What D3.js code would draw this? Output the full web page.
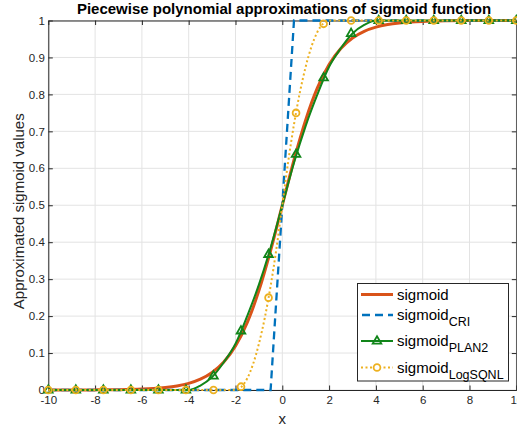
<!DOCTYPE html>
<html>
<head>
<meta charset="utf-8">
<script src="https://cdn.jsdelivr.net/npm/d3@7"></script>
<style>
  body { margin: 0; background: #fff; }
  svg text { font-family: "Liberation Sans", Arial, sans-serif; }
</style>
</head>
<body>
<svg id="chart" width="517" height="431"></svg>
<script>
// data

var xTicks = [-10, -8, -6, -4, -2, 0, 2, 4, 6, 8, 10];
var xTickLabels = ["-10", "-8", "-6", "-4", "-2", "0", "2", "4", "6", "8", "10"];
var yTicks = [0, 0.1, 0.2, 0.3, 0.4, 0.5, 0.6, 0.7, 0.8, 0.9, 1];
var yTickLabels = ["0", "0.1", "0.2", "0.3", "0.4", "0.5", "0.6", "0.7", "0.8", "0.9", "1"];

// exact sigmoid curve
var sigX = [-10, -9, -8, -7, -6, -5.5, -5, -4.5, -4, -3.5, -3, -2.5, -2, -1.5, -1, -0.5, 0,
            0.5, 1, 1.5, 2, 2.5, 3, 3.5, 4, 4.5, 5, 5.5, 6, 7, 8, 9, 10];
var sigY = [0.0000, 0.0001, 0.0003, 0.0009, 0.0025, 0.0041, 0.0067, 0.0110, 0.0180, 0.0293, 0.0474, 0.0759, 0.1192, 0.1824, 0.2689, 0.3775, 0.5,
            0.6225, 0.7311, 0.8176, 0.8808, 0.9241, 0.9526, 0.9707, 0.9820, 0.9890, 0.9933, 0.9959, 0.9975, 0.9991, 0.9997, 0.9999, 1.0];

// CRI
var criX = [-10, -0.5, 0.5, 10];
var criY = [0, 0, 1, 1];

// PLAN2
var planX = [-10, -4, -3.5, -3, -2.5, -2, -1.5, -1, -0.5, 0, 0.5, 1, 1.5, 2, 2.5, 3, 3.5, 4, 10];
var planY = [0, 0, 0.012, 0.035, 0.075, 0.125, 0.2, 0.285, 0.385, 0.5, 0.615, 0.715, 0.8, 0.875, 0.925, 0.965, 0.988, 1, 1];

// LogSQNL
var sqX = [-10, -2, -1.75, -1.5, -1.25, -1, -0.75, -0.5, -0.25, 0, 0.25, 0.5, 0.75, 1, 1.25, 1.5, 1.75, 2, 10];
var sqY = [0, 0, 0.008, 0.031, 0.070, 0.125, 0.195, 0.281, 0.383, 0.5, 0.617, 0.719, 0.805, 0.875, 0.930, 0.969, 0.992, 1, 1];

// marker positions (18 samples)
var markX = [-10, -8.824, -7.647, -6.471, -5.294, -4.118, -2.941, -1.765, -0.588,
             0.588, 1.765, 2.941, 4.118, 5.294, 6.471, 7.647, 8.824, 10];
var planMarkY = [0, 0, 0, 0, 0, 0, 0.038, 0.16, 0.367, 0.638, 0.845, 0.965, 1, 1, 1, 1, 1, 1];
var sqMarkY = [0, 0, 0, 0, 0, 0, 0, 0.009, 0.25, 0.75, 0.991, 1, 1, 1, 1, 1, 1, 1];

var legendNames = [["sigmoid", ""], ["sigmoid", "CRI"], ["sigmoid", "PLAN2"], ["sigmoid", "LogSQNL"]];

var colors = {
    sig: "#D95319",
    cri: "#0072BD",
    plan: "#118519",
    sq: "#EDB120"
};

var svg = d3.select("#chart");

var mLeft = 48.3, mRight = 516.3, mTop = 20.5, mBottom = 390;

var x = d3.scaleLinear().domain([-10, 10]).range([mLeft, mRight]);
var y = d3.scaleLinear().domain([0, 1]).range([mBottom, mTop]);

// grid
var grid = svg.append("g");
grid.selectAll("line.gx")
    .data(xTicks)
    .enter()
    .append("line")
    .attr("x1", d => x(d)).attr("x2", d => x(d))
    .attr("y1", mTop).attr("y2", mBottom)
    .attr("stroke", "#e3e3e3").attr("stroke-width", 1);
grid.selectAll("line.gy")
    .data(yTicks)
    .enter()
    .append("line")
    .attr("x1", mLeft).attr("x2", mRight)
    .attr("y1", d => y(d)).attr("y2", d => y(d))
    .attr("stroke", "#e3e3e3").attr("stroke-width", 1);

// axes (inward ticks, box)
var axisColor = "#262626";
var xAxisB = d3.axisBottom(x).tickValues(xTicks).tickSizeInner(-4.5).tickSizeOuter(0).tickPadding(6)
    .tickFormat((d, i) => xTickLabels[i]);
var xAxisT = d3.axisTop(x).tickValues(xTicks).tickSizeInner(-4.5).tickSizeOuter(0).tickFormat("");
var yAxisL = d3.axisLeft(y).tickValues(yTicks).tickSizeInner(-4.5).tickSizeOuter(0).tickPadding(3.5)
    .tickFormat((d, i) => yTickLabels[i]);
var yAxisR = d3.axisRight(y).tickValues(yTicks).tickSizeInner(-4.5).tickSizeOuter(0).tickFormat("");

function styleAxis(g) {
    g.selectAll("path").attr("stroke", axisColor).attr("stroke-width", 1);
    g.selectAll("line").attr("stroke", axisColor).attr("stroke-width", 1);
    g.selectAll("text").attr("fill", "#262626").style("font-size", "11.5px").style("font-family", "Liberation Sans, Arial, sans-serif");
}

svg.append("g").attr("transform", `translate(0,${mBottom})`).call(xAxisB).call(styleAxis);
svg.append("g").attr("transform", `translate(0,${mTop})`).call(xAxisT).call(styleAxis);
svg.append("g").attr("transform", `translate(${mLeft},0)`).call(yAxisL).call(styleAxis);
svg.append("g").attr("transform", `translate(${mRight},0)`).call(yAxisR).call(styleAxis);

// lines
function pts(xs, ys) {
    return xs.map((v, i) => [v, ys[i]]);
}
var smooth = d3.line().x(d => x(d[0])).y(d => y(d[1])).curve(d3.curveMonotoneX);
var straight = d3.line().x(d => x(d[0])).y(d => y(d[1]));

svg.append("path")
    .attr("d", smooth(pts(sigX, sigY)))
    .attr("fill", "none").attr("stroke", colors.sig).attr("stroke-width", 3);

svg.append("path")
    .attr("d", straight(pts(criX, criY)))
    .attr("fill", "none").attr("stroke", colors.cri).attr("stroke-width", 2.3)
    .attr("stroke-dasharray", "8,5");

svg.append("path")
    .attr("d", smooth(pts(planX, planY)))
    .attr("fill", "none").attr("stroke", colors.plan).attr("stroke-width", 2);

var tri = "M0,-4.8L4.3,2.6L-4.3,2.6Z";
svg.append("g").selectAll("path")
    .data(pts(markX, planMarkY))
    .enter()
    .append("path")
    .attr("d", tri)
    .attr("transform", d => `translate(${x(d[0])},${y(d[1])})`)
    .attr("fill", "none").attr("stroke", colors.plan).attr("stroke-width", 1.8);

svg.append("path")
    .attr("d", smooth(pts(sqX, sqY)))
    .attr("fill", "none").attr("stroke", colors.sq).attr("stroke-width", 2)
    .attr("stroke-dasharray", "2,2.5");

svg.append("g").selectAll("circle")
    .data(pts(markX, sqMarkY))
    .enter()
    .append("circle")
    .attr("cx", d => x(d[0])).attr("cy", d => y(d[1]))
    .attr("r", 3.4)
    .attr("fill", "none").attr("stroke", colors.sq).attr("stroke-width", 1.8);

// title and labels
svg.append("text")
    .attr("x", 284).attr("y", 14)
    .attr("text-anchor", "middle")
    .style("font-size", "15px").style("font-weight", "bold")
    .attr("fill", "#000")
    .text("Piecewise polynomial approximations of sigmoid function");

svg.append("text")
    .attr("x", x(0)).attr("y", 424)
    .attr("text-anchor", "middle")
    .style("font-size", "15px")
    .attr("fill", "#262626")
    .text("x");

svg.append("text")
    .attr("transform", `translate(24,${(mTop + mBottom) / 2 + 6}) rotate(-90)`)
    .attr("text-anchor", "middle")
    .style("font-size", "15px")
    .attr("fill", "#262626")
    .text("Approximated sigmoid values");

// legend
var lg = svg.append("g");
lg.append("rect")
    .attr("x", 357.5).attr("y", 283.5).attr("width", 151).attr("height", 97.5)
    .attr("fill", "#fff").attr("stroke", axisColor).attr("stroke-width", 1);

var rowY = [294.5, 315, 341, 367.5];
var sx1 = 361, sx2 = 393, tx = 397;

lg.append("line").attr("x1", sx1).attr("x2", sx2).attr("y1", rowY[0]).attr("y2", rowY[0])
    .attr("stroke", colors.sig).attr("stroke-width", 3);
lg.append("line").attr("x1", sx1).attr("x2", sx2).attr("y1", rowY[1]).attr("y2", rowY[1])
    .attr("stroke", colors.cri).attr("stroke-width", 2.3).attr("stroke-dasharray", "8,5").attr("stroke-dashoffset", -1);
lg.append("line").attr("x1", sx1).attr("x2", sx2).attr("y1", rowY[2]).attr("y2", rowY[2])
    .attr("stroke", colors.plan).attr("stroke-width", 2);
lg.append("path").attr("d", tri).attr("transform", `translate(${(sx1 + sx2) / 2},${rowY[2]})`)
    .attr("fill", "none").attr("stroke", colors.plan).attr("stroke-width", 1.8);
lg.append("line").attr("x1", sx1).attr("x2", sx2).attr("y1", rowY[3]).attr("y2", rowY[3])
    .attr("stroke", colors.sq).attr("stroke-width", 2).attr("stroke-dasharray", "2,2.5");
lg.append("circle").attr("cx", (sx1 + sx2) / 2).attr("cy", rowY[3]).attr("r", 3.4)
    .attr("fill", "#fff").attr("stroke", colors.sq).attr("stroke-width", 1.8);

legendNames.forEach((n, i) => {
    var t = lg.append("text")
        .attr("x", tx).attr("y", rowY[i] + 5)
        .style("font-size", "15px")
        .attr("fill", "#000");
    t.append("tspan").text(n[0]);
    if (n[1]) {
        t.append("tspan").attr("dy", 6).style("font-size", "12.5px").text(n[1]);
    }
});
</script>
</body>
</html>
